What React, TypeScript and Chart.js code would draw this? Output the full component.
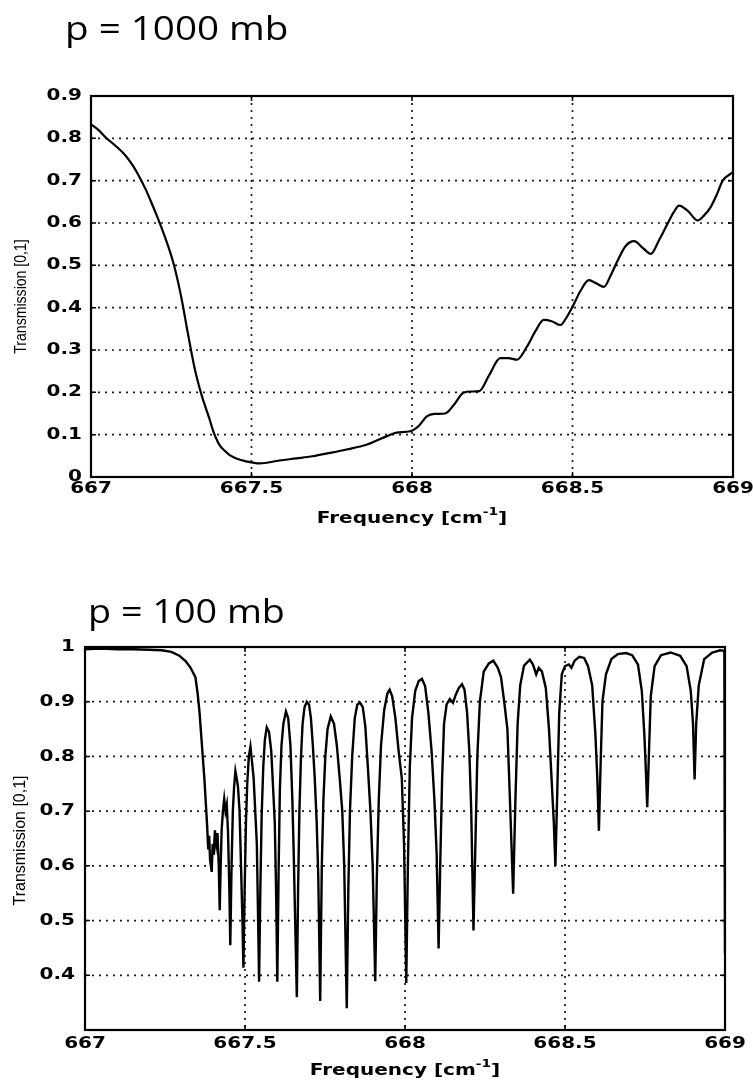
import React, { useEffect, useRef } from "react";
import { Chart, registerables } from "chart.js";

Chart.register(...registerables);

// ---------- DATA ----------
const topTitle = "p = 1000 mb";
const bottomTitle = "p = 100 mb";
const yAxisTitle = "Transmission [0,1]";
const xAxisTitleMain = "Frequency [cm";
const xAxisTitleSup = "-1";
const xAxisTitleEnd = "]";

const xTickValues = [667, 667.5, 668, 668.5, 669];
const xTickLabels = ["667", "667.5", "668", "668.5", "669"];

const topYTickValues = [0, 0.1, 0.2, 0.3, 0.4, 0.5, 0.6, 0.7, 0.8, 0.9];
const topYTickLabels = ["0", "0.1", "0.2", "0.3", "0.4", "0.5", "0.6", "0.7", "0.8", "0.9"];

const bottomYTickValues = [0.4, 0.5, 0.6, 0.7, 0.8, 0.9, 1.0];
const bottomYTickLabels = ["0.4", "0.5", "0.6", "0.7", "0.8", "0.9", "1"];

// p = 1000 mb
const topFreq = [
  667.0, 667.023, 667.046, 667.077, 667.108, 667.13, 667.15, 667.17, 667.19, 667.21,
  667.228, 667.244, 667.258, 667.272, 667.285, 667.298, 667.311, 667.322, 667.334, 667.346,
  667.358, 667.37, 667.38, 667.39, 667.4, 667.415, 667.43, 667.455, 667.483, 667.525,
  667.587, 667.64, 667.69, 667.745, 667.796, 667.858, 667.89, 667.92, 667.952, 667.994,
  668.02, 668.046, 668.07, 668.103, 668.13, 668.16, 668.185, 668.21, 668.24, 668.275,
  668.3, 668.327, 668.358, 668.385, 668.41, 668.435, 668.4625, 668.48, 668.5, 668.525,
  668.551, 668.575, 668.598, 668.62, 668.64, 668.665, 668.692, 668.718, 668.744, 668.77,
  668.796, 668.815, 668.832, 668.86, 668.89, 668.91, 668.93, 668.95, 668.968, 669.0,
];
const topTrans = [
  0.833, 0.82, 0.802, 0.782, 0.759, 0.736, 0.71, 0.68, 0.645, 0.608,
  0.572, 0.537, 0.502, 0.458, 0.41, 0.355, 0.302, 0.26, 0.222, 0.19,
  0.162, 0.135, 0.11, 0.091, 0.076, 0.063, 0.053, 0.043, 0.037, 0.032,
  0.039, 0.044, 0.049, 0.057, 0.065, 0.076, 0.086, 0.096, 0.105, 0.108,
  0.12, 0.143, 0.149, 0.15, 0.17, 0.199, 0.202, 0.203, 0.24, 0.281,
  0.281, 0.277, 0.308, 0.345, 0.371, 0.368, 0.359, 0.375, 0.402, 0.44,
  0.465, 0.457, 0.449, 0.478, 0.51, 0.545, 0.557, 0.542, 0.527, 0.56,
  0.598, 0.625, 0.641, 0.628, 0.606, 0.618, 0.637, 0.668, 0.7, 0.72,
];

// p = 100 mb
const bottomFreq = [
  667.0, 667.05, 667.1, 667.15, 667.2, 667.24, 667.27, 667.295, 667.315, 667.33,
  667.345, 667.352, 667.358, 667.363, 667.368, 667.373, 667.378, 667.382, 667.385, 667.388,
  667.391, 667.396, 667.399, 667.402, 667.406, 667.41, 667.414, 667.418, 667.421, 667.424,
  667.427, 667.431, 667.435, 667.439, 667.443, 667.447, 667.451, 667.454, 667.458, 667.462,
  667.466, 667.47, 667.474, 667.478, 667.483, 667.488, 667.492, 667.495, 667.499, 667.503,
  667.507, 667.512, 667.517, 667.522, 667.527, 667.532, 667.537, 667.541, 667.544, 667.548,
  667.552, 667.557, 667.562, 667.568, 667.575, 667.582, 667.588, 667.593, 667.597, 667.601,
  667.605, 667.609, 667.614, 667.62, 667.628, 667.635, 667.642, 667.648, 667.652, 667.656,
  667.662, 667.666, 667.67, 667.675, 667.68, 667.686, 667.693, 667.7, 667.706, 667.712,
  667.718, 667.724, 667.729, 667.735, 667.74, 667.745, 667.751, 667.758, 667.768, 667.778,
  667.787, 667.796, 667.804, 667.81, 667.818, 667.823, 667.828, 667.835, 667.843, 667.851,
  667.86, 667.868, 667.876, 667.884, 667.892, 667.899, 667.907, 667.912, 667.918, 667.925,
  667.935, 667.945, 667.952, 667.96, 667.97, 667.98, 667.99, 667.997, 668.004, 668.009,
  668.015, 668.022, 668.032, 668.043, 668.053, 668.063, 668.073, 668.083, 668.092, 668.099,
  668.105, 668.11, 668.116, 668.122, 668.13, 668.14, 668.15, 668.158, 668.168, 668.178,
  668.186, 668.194, 668.201, 668.207, 668.214, 668.22, 668.226, 668.234, 668.246, 668.262,
  668.276, 668.29, 668.3, 668.31, 668.32, 668.328, 668.338, 668.345, 668.352, 668.36,
  668.372, 668.39, 668.4, 668.41, 668.418, 668.428, 668.44, 668.45, 668.458, 668.465,
  668.47, 668.476, 668.482, 668.49, 668.5, 668.512, 668.52, 668.53, 668.545, 668.56,
  668.572, 668.585, 668.595, 668.601, 668.606, 668.611, 668.617, 668.628, 668.645, 668.665,
  668.69, 668.71, 668.728, 668.74, 668.748, 668.753, 668.757, 668.762, 668.768, 668.78,
  668.8, 668.83, 668.86, 668.88, 668.893, 668.9, 668.905, 668.91, 668.918, 668.935,
  668.96, 668.985, 668.998, 669.0,
];
const bottomTrans = [
  0.996, 0.997, 0.996, 0.996, 0.995, 0.994, 0.991, 0.984, 0.974, 0.962,
  0.945, 0.915, 0.88, 0.84, 0.8, 0.76, 0.71, 0.67, 0.63, 0.655,
  0.61, 0.589, 0.64, 0.62, 0.665, 0.64, 0.66, 0.6, 0.519, 0.6,
  0.665, 0.7, 0.722, 0.7, 0.712, 0.66, 0.56, 0.455, 0.6, 0.7,
  0.745, 0.773, 0.76, 0.745, 0.7, 0.59, 0.5, 0.414, 0.56, 0.68,
  0.75, 0.8, 0.818, 0.79, 0.76, 0.7, 0.64, 0.5, 0.388, 0.56,
  0.69, 0.78, 0.83, 0.853, 0.845, 0.81, 0.74, 0.68, 0.56, 0.388,
  0.59, 0.74, 0.82, 0.86, 0.882, 0.87, 0.82, 0.72, 0.63, 0.52,
  0.36, 0.56, 0.7, 0.8, 0.86, 0.89, 0.9, 0.895, 0.87, 0.82,
  0.76, 0.68, 0.58, 0.353, 0.6, 0.72, 0.8, 0.85, 0.873, 0.86,
  0.82, 0.76, 0.7, 0.6, 0.34, 0.56, 0.7, 0.8, 0.87, 0.895,
  0.898, 0.89, 0.855, 0.78, 0.7, 0.6, 0.389, 0.58, 0.72, 0.82,
  0.885, 0.915, 0.922, 0.91, 0.87, 0.81, 0.76, 0.64, 0.386, 0.6,
  0.78, 0.87, 0.92, 0.938, 0.942, 0.928, 0.88, 0.81, 0.72, 0.62,
  0.449, 0.6, 0.76, 0.86, 0.895, 0.905, 0.898, 0.912, 0.925, 0.932,
  0.922, 0.88, 0.81, 0.7, 0.482, 0.64, 0.8, 0.9, 0.955, 0.97,
  0.975, 0.962, 0.945, 0.9, 0.85, 0.72, 0.549, 0.72, 0.86, 0.93,
  0.966, 0.977, 0.968, 0.95, 0.962, 0.955, 0.925, 0.85, 0.76, 0.68,
  0.6, 0.74, 0.88, 0.95, 0.965, 0.968, 0.962, 0.975, 0.982, 0.98,
  0.965, 0.93, 0.84, 0.76, 0.664, 0.78, 0.9, 0.95, 0.978, 0.987,
  0.989, 0.985, 0.968, 0.92, 0.84, 0.77, 0.707, 0.8, 0.91, 0.965,
  0.985, 0.99, 0.984, 0.965, 0.92, 0.86, 0.758, 0.86, 0.93, 0.978,
  0.99, 0.994, 0.993, 0.44,
];

// ---------- DRAWING HELPERS ----------
function stretchText(
  ctx: CanvasRenderingContext2D,
  text: string,
  x: number,
  y: number,
  sx: number,
  align: CanvasTextAlign,
  baseline: CanvasTextBaseline
) {
  ctx.save();
  ctx.translate(x, y);
  ctx.scale(sx, 1);
  ctx.textAlign = align;
  ctx.textBaseline = baseline;
  ctx.fillText(text, 0, 0);
  ctx.restore();
}

const framePlugin = {
  id: "matlabFrame",
  beforeDatasetsDraw(chart: any, _args: any, o: any) {
    const { ctx, chartArea: a } = chart;
    const xs = chart.scales.x;
    const ys = chart.scales.y;
    ctx.save();
    ctx.strokeStyle = "#1a1a1a";
    ctx.lineWidth = 1.7;
    ctx.setLineDash([2, 5]);
    for (const v of o.xTicks) {
      const px = xs.getPixelForValue(v);
      if (px <= a.left + 2 || px >= a.right - 2) continue;
      ctx.beginPath();
      ctx.moveTo(px, a.top);
      ctx.lineTo(px, a.bottom);
      ctx.stroke();
    }
    for (const v of o.yTicks) {
      const py = ys.getPixelForValue(v);
      if (py <= a.top + 2 || py >= a.bottom - 2) continue;
      ctx.beginPath();
      ctx.moveTo(a.left, py);
      ctx.lineTo(a.right, py);
      ctx.stroke();
    }
    ctx.restore();
  },
  afterDatasetsDraw(chart: any, _args: any, o: any) {
    const { ctx, chartArea: a } = chart;
    const xs = chart.scales.x;
    const ys = chart.scales.y;
    ctx.save();
    ctx.setLineDash([]);
    ctx.strokeStyle = "#000";
    ctx.lineWidth = 2.2;
    ctx.strokeRect(a.left, a.top, a.right - a.left, a.bottom - a.top);
    ctx.lineWidth = 1.5;
    const tl = 5;
    for (const v of o.xTicks) {
      const px = xs.getPixelForValue(v);
      ctx.beginPath();
      ctx.moveTo(px, a.bottom);
      ctx.lineTo(px, a.bottom - tl);
      ctx.moveTo(px, a.top);
      ctx.lineTo(px, a.top + tl);
      ctx.stroke();
    }
    for (const v of o.yTicks) {
      const py = ys.getPixelForValue(v);
      ctx.beginPath();
      ctx.moveTo(a.left, py);
      ctx.lineTo(a.left + tl, py);
      ctx.moveTo(a.right, py);
      ctx.lineTo(a.right - tl, py);
      ctx.stroke();
    }
    // tick labels
    ctx.fillStyle = "#000";
    ctx.font = "bold 16px 'DejaVu Sans'";
    o.yTicks.forEach((v: number, i: number) => {
      stretchText(ctx, o.yLabels[i], a.left - o.yLabelGap, ys.getPixelForValue(v), 1.25, "right", "middle");
    });
    o.xTicks.forEach((v: number, i: number) => {
      stretchText(ctx, o.xLabels[i], xs.getPixelForValue(v), a.bottom + o.xLabelOffset, 1.25, "center", "middle");
    });
    // x axis title with superscript
    const sx = 1.25;
    ctx.font = "bold 16px 'DejaVu Sans'";
    const wMain = ctx.measureText(xAxisTitleMain).width * sx;
    const wEnd = ctx.measureText(xAxisTitleEnd).width * sx;
    ctx.font = "bold 11px 'DejaVu Sans'";
    const wSup = ctx.measureText(xAxisTitleSup).width * sx;
    const total = wMain + wSup + wEnd;
    let x0 = (a.left + a.right) / 2 - total / 2;
    const ty = a.bottom + o.xTitleOffset;
    ctx.font = "bold 16px 'DejaVu Sans'";
    stretchText(ctx, xAxisTitleMain, x0, ty, sx, "left", "middle");
    x0 += wMain;
    ctx.font = "bold 11px 'DejaVu Sans'";
    stretchText(ctx, xAxisTitleSup, x0, ty - 7, sx, "left", "middle");
    x0 += wSup;
    ctx.font = "bold 16px 'DejaVu Sans'";
    stretchText(ctx, xAxisTitleEnd, x0, ty, sx, "left", "middle");
    // y axis title
    ctx.font = o.yTitleFont;
    ctx.save();
    ctx.translate(o.yTitleX, (a.top + a.bottom) / 2 + o.yTitleDy);
    ctx.rotate(-Math.PI / 2);
    ctx.scale(o.yTitleScale, 1);
    ctx.textAlign = "center";
    ctx.textBaseline = "middle";
    ctx.fillText(yAxisTitle, 0, 0);
    ctx.restore();
    // panel title
    ctx.font = o.titleFont;
    stretchText(ctx, o.title, o.titleX, o.titleY, o.titleScale, "left", "alphabetic");
    ctx.restore();
  },
};

type PanelProps = {
  top: number;
  height: number;
  freq: number[];
  trans: number[];
  yMin: number;
  yMax: number;
  padTop: number;
  padRight: number;
  yAxisWidth: number;
  xAxisHeight: number;
  tension: number;
  lineWidth: number;
  frame: any;
};

function Panel(p: PanelProps) {
  const ref = useRef<HTMLCanvasElement | null>(null);
  useEffect(() => {
    if (!ref.current) return;
    const chart = new Chart(ref.current, {
      type: "line",
      data: {
        datasets: [
          {
            data: p.freq.map((f, i) => ({ x: f, y: p.trans[i] })),
            borderColor: "#000",
            borderWidth: p.lineWidth,
            pointRadius: 0,
            fill: false,
            tension: p.tension,
            cubicInterpolationMode: p.tension > 0 ? "monotone" : "default",
          } as any,
        ],
      },
      options: {
        animation: false,
        responsive: false,
        maintainAspectRatio: false,
        events: [],
        layout: { padding: { top: p.padTop, right: p.padRight, left: 0, bottom: 0 } },
        plugins: {
          legend: { display: false },
          tooltip: { enabled: false },
          matlabFrame: p.frame,
        } as any,
        scales: {
          x: {
            type: "linear",
            min: 667,
            max: 669,
            ticks: { display: false },
            grid: { display: false },
            border: { display: false },
            afterFit: (s: any) => {
              s.height = p.xAxisHeight;
            },
          },
          y: {
            type: "linear",
            min: p.yMin,
            max: p.yMax,
            ticks: { display: false },
            grid: { display: false },
            border: { display: false },
            afterFit: (s: any) => {
              s.width = p.yAxisWidth;
            },
          },
        },
      },
      plugins: [framePlugin],
    });
    return () => chart.destroy();
  }, []);
  return (
    <canvas
      ref={ref}
      width={753}
      height={p.height}
      style={{ position: "absolute", left: 0, top: p.top, width: 753, height: p.height }}
    />
  );
}

export default function App() {
  return (
    <div
      style={{
        position: "fixed",
        left: 0,
        top: 0,
        width: 753,
        height: 1084,
        background: "#fff",
        overflow: "hidden",
      }}
    >
      <Panel
        top={0}
        height={540}
        freq={topFreq}
        trans={topTrans}
        yMin={0}
        yMax={0.9}
        padTop={96}
        padRight={20}
        yAxisWidth={91}
        xAxisHeight={63}
        tension={0.4}
        lineWidth={2.2}
        frame={{
          xTicks: xTickValues,
          xLabels: xTickLabels,
          yTicks: topYTickValues,
          yLabels: topYTickLabels,
          yLabelGap: 9,
          xLabelOffset: 12,
          xTitleOffset: 42,
          yTitleX: 22,
          yTitleDy: 10,
          yTitleFont: "16px 'Liberation Sans'",
          yTitleScale: 0.88,
          title: topTitle,
          titleFont: "33px 'Open Sans'",
          titleScale: 1.17,
          titleX: 65,
          titleY: 40,
        }}
      />
      <Panel
        top={540}
        height={544}
        freq={bottomFreq}
        trans={bottomTrans}
        yMin={0.3}
        yMax={1.0}
        padTop={107}
        padRight={28}
        yAxisWidth={85}
        xAxisHeight={54}
        tension={0}
        lineWidth={2.4}
        frame={{
          xTicks: xTickValues,
          xLabels: xTickLabels,
          yTicks: bottomYTickValues,
          yLabels: bottomYTickLabels,
          yLabelGap: 10,
          xLabelOffset: 14,
          xTitleOffset: 41,
          yTitleX: 20,
          yTitleDy: 2,
          yTitleFont: "17px 'Liberation Sans'",
          yTitleScale: 0.94,
          title: bottomTitle,
          titleFont: "32px 'Open Sans'",
          titleScale: 1.18,
          titleX: 88,
          titleY: 83,
        }}
      />
    </div>
  );
}
